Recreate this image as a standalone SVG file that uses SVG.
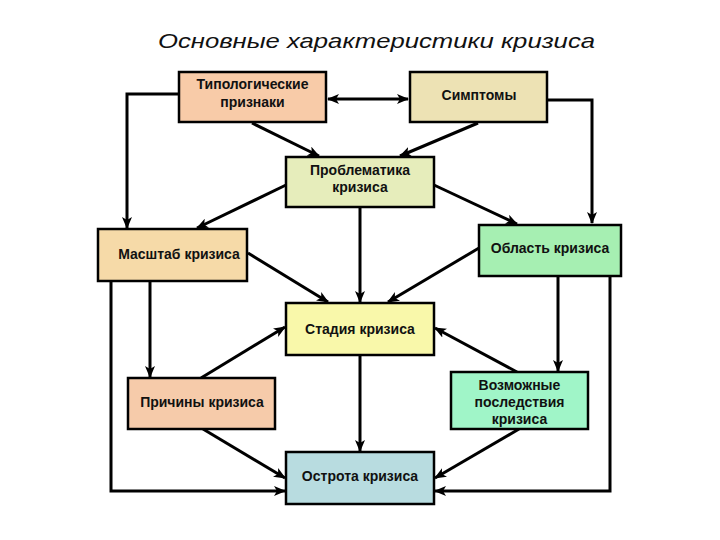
<svg xmlns="http://www.w3.org/2000/svg" width="720" height="540" viewBox="0 0 720 540">
<style>
.box{stroke:#000;stroke-width:2.5}
.t{font-family:"Liberation Sans",Arial,sans-serif;font-size:14px;font-weight:bold;fill:#111;text-anchor:middle}
.title{font-family:"Liberation Sans",Arial,sans-serif;font-size:21px;font-style:italic;fill:#111}
.c{fill:none;stroke:#000;stroke-width:3}
</style>
<defs>
<marker id="ah" markerUnits="userSpaceOnUse" markerWidth="12" markerHeight="10" refX="11" refY="5" orient="auto">
<path d="M0,0 L12,5 L0,10 L3,5 Z" fill="#000"/>
</marker>
<marker id="as" markerUnits="userSpaceOnUse" markerWidth="12" markerHeight="10" refX="1" refY="5" orient="auto">
<path d="M12,0 L0,5 L12,10 L9,5 Z" fill="#000"/>
</marker>
</defs>
<rect width="720" height="540" fill="#fff"/>
<text class="title" x="158" y="48" textLength="437" lengthAdjust="spacingAndGlyphs">Основные характеристики кризиса</text>

<g id="connectors">
<line class="c" x1="328" y1="99" x2="408" y2="99" marker-start="url(#as)" marker-end="url(#ah)"/>
<polyline class="c" points="179,94 127,94 127,228" marker-end="url(#ah)"/>
<polyline class="c" points="547,100 592,100 592,223" marker-end="url(#ah)"/>
<line class="c" x1="252" y1="123" x2="319" y2="156" marker-end="url(#ah)"/>
<line class="c" x1="478" y1="123" x2="400" y2="156" marker-end="url(#ah)"/>
<line class="c" x1="286" y1="185" x2="197" y2="228" marker-end="url(#ah)"/>
<line class="c" x1="434" y1="185" x2="517" y2="224" marker-end="url(#ah)"/>
<line class="c" x1="360" y1="207" x2="360" y2="302" marker-end="url(#ah)"/>
<line class="c" x1="248" y1="253" x2="328" y2="302" marker-end="url(#ah)"/>
<line class="c" x1="479" y1="248" x2="388" y2="302" marker-end="url(#ah)"/>
<line class="c" x1="150" y1="281" x2="150" y2="377" marker-end="url(#ah)"/>
<polyline class="c" points="111,281 111,491 285,491" marker-end="url(#ah)"/>
<line class="c" x1="201" y1="378" x2="285" y2="327" marker-end="url(#ah)"/>
<line class="c" x1="517" y1="372" x2="435" y2="328" marker-end="url(#ah)"/>
<line class="c" x1="558" y1="276" x2="558" y2="371" marker-end="url(#ah)"/>
<polyline class="c" points="610,276 610,491 435,491" marker-end="url(#ah)"/>
<line class="c" x1="360" y1="355" x2="360" y2="451" marker-end="url(#ah)"/>
<line class="c" x1="203" y1="429" x2="285" y2="478" marker-end="url(#ah)"/>
<line class="c" x1="519" y1="429" x2="435" y2="478" marker-end="url(#ah)"/>
</g>

<g id="tipolog">
<rect class="box" x="179" y="72" width="147" height="50" fill="#F8CBA8"/>
<text class="t" x="252.5" y="89">Типологические</text>
<text class="t" x="252.5" y="107">признаки</text>
</g>
<g id="simptomy">
<rect class="box" x="410" y="72" width="137" height="50" fill="#EDE2B4"/>
<text class="t" x="479" y="100">Симптомы</text>
</g>
<g id="problematika">
<rect class="box" x="286" y="157" width="148" height="50" fill="#E6EDBB"/>
<text class="t" x="360" y="175">Проблематика</text>
<text class="t" x="360" y="192">кризиса</text>
</g>
<g id="masshtab">
<rect class="box" x="98" y="229" width="149" height="52" fill="#F6DAA8"/>
<text class="t" x="179" y="259">Масштаб кризиса</text>
</g>
<g id="oblast">
<rect class="box" x="479" y="225" width="142" height="51" fill="#A6EFB2"/>
<text class="t" x="550" y="253">Область кризиса</text>
</g>
<g id="stadiya">
<rect class="box" x="286" y="303" width="148" height="52" fill="#F9F8AA"/>
<text class="t" x="360" y="334">Стадия кризиса</text>
</g>
<g id="prichiny">
<rect class="box" x="128" y="378" width="147" height="51" fill="#F6CBAA"/>
<text class="t" x="202" y="407">Причины кризиса</text>
</g>
<g id="posledstviya">
<rect class="box" x="451" y="372" width="137" height="57" fill="#A0F5C8"/>
<text class="t" x="519.5" y="390">Возможные</text>
<text class="t" x="519.5" y="407">последствия</text>
<text class="t" x="519.5" y="424">кризиса</text>
</g>
<g id="ostrota">
<rect class="box" x="286" y="452" width="148" height="52" fill="#B8DCE0"/>
<text class="t" x="360" y="481">Острота кризиса</text>
</g>
</svg>
